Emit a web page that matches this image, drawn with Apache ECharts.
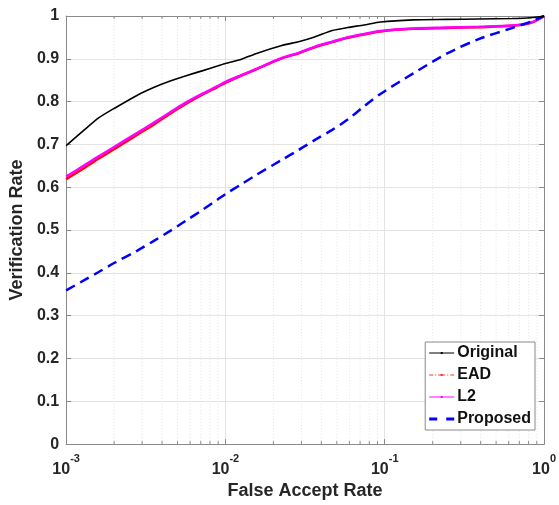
<!DOCTYPE html>
<html>
<head>
<meta charset="utf-8">
<script src="https://cdn.jsdelivr.net/npm/echarts@6/dist/echarts.min.js"></script>
<style>
html, body { margin: 0; padding: 0; background: #fff; }
#container { width: 559px; height: 505px; }
</style>
</head>
<body>
<div id="container"></div>
<script>
var dom = document.getElementById("container");
var myChart = echarts.init(dom);
var option = null;

// false accept rate sample points (shared by every curve)
var far = [0.001, 0.0013, 0.0016, 0.002, 0.0028, 0.0036, 0.0045, 0.0056, 0.0073, 0.0089,
           0.01, 0.0126, 0.0155, 0.0226, 0.0288, 0.0363, 0.0468, 0.0585, 0.0741, 0.094,
           0.151, 0.245, 0.389, 0.631, 0.83, 1];
var original = [0.697, 0.734, 0.762, 0.784, 0.815, 0.834, 0.848, 0.860, 0.873, 0.883,
                0.889, 0.899, 0.912, 0.931, 0.940, 0.951, 0.966, 0.973, 0.979, 0.986,
                0.991, 0.992, 0.993, 0.994, 0.996, 1.0];
var ead = [0.619, 0.645, 0.667, 0.689, 0.723, 0.748, 0.772, 0.794, 0.818, 0.834,
           0.844, 0.861, 0.875, 0.901, 0.913, 0.927, 0.939, 0.949, 0.957, 0.964,
           0.970, 0.972, 0.974, 0.977, 0.984, 1.0];
var l2 = [0.625, 0.651, 0.672, 0.694, 0.727, 0.752, 0.775, 0.797, 0.820, 0.836,
          0.846, 0.862, 0.876, 0.902, 0.914, 0.928, 0.940, 0.950, 0.958, 0.965,
          0.971, 0.973, 0.975, 0.978, 0.985, 1.0];
var proposed = [0.359, 0.383, 0.402, 0.423, 0.452, 0.476, 0.498, 0.521, 0.549, 0.571,
                0.584, 0.607, 0.628, 0.664, 0.687, 0.710, 0.734, 0.758, 0.789, 0.818,
                0.866, 0.912, 0.946, 0.972, 0.987, 1.0];

// minor log ticks (2..9 in each decade)
var minorTicks = [0.002, 0.003, 0.004, 0.005, 0.006, 0.007, 0.008, 0.009,
                  0.02, 0.03, 0.04, 0.05, 0.06, 0.07, 0.08, 0.09,
                  0.2, 0.3, 0.4, 0.5, 0.6, 0.7, 0.8, 0.9];

var FONT = "'Liberation Sans', Arial, sans-serif";
var TXT = '#262626';
var AX = '#8a8a8a';

// legend glyphs: thin line with a dot marker, dash-dot line, dashed line
var ICON_DOTLINE = 'path://M0,6 L25,6 L25,7 L0,7 Z M11.5,5.5 L13.5,5.5 L13.5,7.5 L11.5,7.5 Z';
var ICON_DASHDOT = 'path://M0,6 L4,6 L4,7 L0,7 Z M6,6 L7,6 L7,7 L6,7 Z M9,6 L16,6 L16,7 L9,7 Z ' +
                   'M11.5,5.5 L13.5,5.5 L13.5,7.5 L11.5,7.5 Z M18,6 L19,6 L19,7 L18,7 Z M21,6 L25,6 L25,7 L21,7 Z';
var ICON_DASH = 'path://M0,0 L8,0 L8,3 L0,3 Z M17,0 L25,0 L25,3 L17,3 Z';

function pairs(ys) {
    var out = [];
    for (var i = 0; i < far.length; i++) out.push([far[i], ys[i]]);
    return out;
}

option = {
    animation: false,
    backgroundColor: '#fff',
    textStyle: { fontFamily: FONT },
    grid: { left: 60, right: 12, top: 16, bottom: 59 },
    legend: {
        orient: 'vertical',
        right: 24,
        bottom: 75,
        backgroundColor: '#fff',
        borderColor: '#8a8a8a',
        borderWidth: 1,
        borderRadius: 0,
        padding: [3, 4, 3, 4],
        itemWidth: 25,
        itemHeight: 14,
        itemGap: 6,
        symbolKeepAspect: true,
        textStyle: { fontFamily: FONT, fontSize: 16, fontWeight: 'bold', color: '#111', padding: [0, 0, 0, -2] },
        data: [
            { name: 'Original', icon: ICON_DOTLINE, itemStyle: { color: '#000', borderWidth: 0 } },
            { name: 'EAD', icon: ICON_DASHDOT, itemStyle: { color: '#ff3030', borderWidth: 0 } },
            { name: 'L2', icon: ICON_DOTLINE, itemStyle: { color: '#ff00ff', borderWidth: 0 } },
            { name: 'Proposed', icon: ICON_DASH, itemStyle: { color: '#0000ff', borderWidth: 0 } }
        ]
    },
    xAxis: [
        {
            type: 'log', logBase: 10, min: 0.001, max: 1,
            name: 'False Accept Rate', nameLocation: 'middle', nameGap: 36,
            nameTextStyle: { fontFamily: FONT, fontSize: 18, fontWeight: 'bold', color: TXT },
            axisLine: { onZero: false, lineStyle: { color: AX, width: 1 } },
            axisTick: { inside: true, length: 5, lineStyle: { color: AX } },
            splitLine: { show: true, lineStyle: { color: '#e3e3e3', width: 1 } },
            axisLabel: {
                margin: 9,
                formatter: function (v) {
                    var e = Math.round(Math.log(v) / Math.LN10);
                    return '{b|10}{s|' + e + '}';
                },
                rich: {
                    b: { fontFamily: FONT, fontSize: 16, fontWeight: 'bold', color: TXT, lineHeight: 24, verticalAlign: 'bottom' },
                    s: { fontFamily: FONT, fontSize: 11, fontWeight: 'bold', color: TXT, lineHeight: 12, verticalAlign: 'top' }
                }
            }
        },
        {
            type: 'log', logBase: 10, min: 0.001, max: 1, position: 'top',
            axisLine: { onZero: false, lineStyle: { color: AX, width: 1 } },
            axisTick: { inside: true, length: 5, lineStyle: { color: AX } },
            axisLabel: { show: false },
            splitLine: { show: false }
        }
    ],
    yAxis: [
        {
            type: 'value', min: 0, max: 1, interval: 0.1,
            name: 'Verification Rate', nameLocation: 'middle', nameGap: 35,
            nameTextStyle: { fontFamily: FONT, fontSize: 18, fontWeight: 'bold', color: TXT },
            axisLine: { show: true, onZero: false, lineStyle: { color: AX, width: 1 } },
            axisTick: { show: true, inside: true, length: 5, lineStyle: { color: AX } },
            splitLine: { show: true, lineStyle: { color: '#e3e3e3', width: 1 } },
            axisLabel: {
                margin: 7, fontFamily: FONT, fontSize: 16, fontWeight: 'bold', color: TXT,
                formatter: function (v) { return String(Math.round(v * 10) / 10); }
            }
        },
        {
            type: 'value', min: 0, max: 1, interval: 0.1, position: 'right',
            axisLine: { show: true, onZero: false, lineStyle: { color: AX, width: 1 } },
            axisTick: { show: true, inside: true, length: 5, lineStyle: { color: AX } },
            axisLabel: { show: false },
            splitLine: { show: false }
        }
    ],
    series: [
        {
            name: 'minor',
            type: 'custom',
            silent: true,
            z: 1,
            data: minorTicks.map(function (v) { return [v, 0]; }),
            renderItem: function (params, api) {
                var x = api.value(0);
                var p0 = api.coord([x, 0]);
                var p1 = api.coord([x, 1]);
                return {
                    type: 'group',
                    children: [
                        { type: 'line', shape: { x1: p0[0], y1: p0[1], x2: p1[0], y2: p1[1] },
                          style: { stroke: '#e6e6e6', lineWidth: 1, lineDash: [1, 2] } },
                        { type: 'line', shape: { x1: p0[0], y1: p0[1], x2: p0[0], y2: p0[1] - 3 },
                          style: { stroke: AX, lineWidth: 1 } },
                        { type: 'line', shape: { x1: p1[0], y1: p1[1], x2: p1[0], y2: p1[1] + 3 },
                          style: { stroke: AX, lineWidth: 1 } }
                    ]
                };
            }
        },
        {
            name: 'Original', type: 'line', data: pairs(original), smooth: 0.2,
            symbol: 'none',
            itemStyle: { color: '#000' },
            lineStyle: { color: '#000', width: 1.6 },
            z: 4
        },
        {
            name: 'EAD', type: 'line', data: pairs(ead), smooth: 0.3,
            symbol: 'none',
            itemStyle: { color: '#ff3030' },
            lineStyle: { color: '#ff0000', width: 2.5 },
            z: 2
        },
        {
            name: 'L2', type: 'line', data: pairs(l2), smooth: 0.3,
            symbol: 'none',
            itemStyle: { color: '#ff00ff' },
            lineStyle: { color: '#ff00ff', width: 2.5 },
            z: 3
        },
        {
            name: 'Proposed', type: 'line', data: pairs(proposed), smooth: 0.3,
            symbol: 'none',
            itemStyle: { color: '#0000ff' },
            lineStyle: { color: '#0000ff', width: 2.5, type: [10, 6] },
            z: 3
        }
    ]
};
if (option && typeof option === "object") {
    myChart.setOption(option, true);
}
</script>
</body>
</html>
